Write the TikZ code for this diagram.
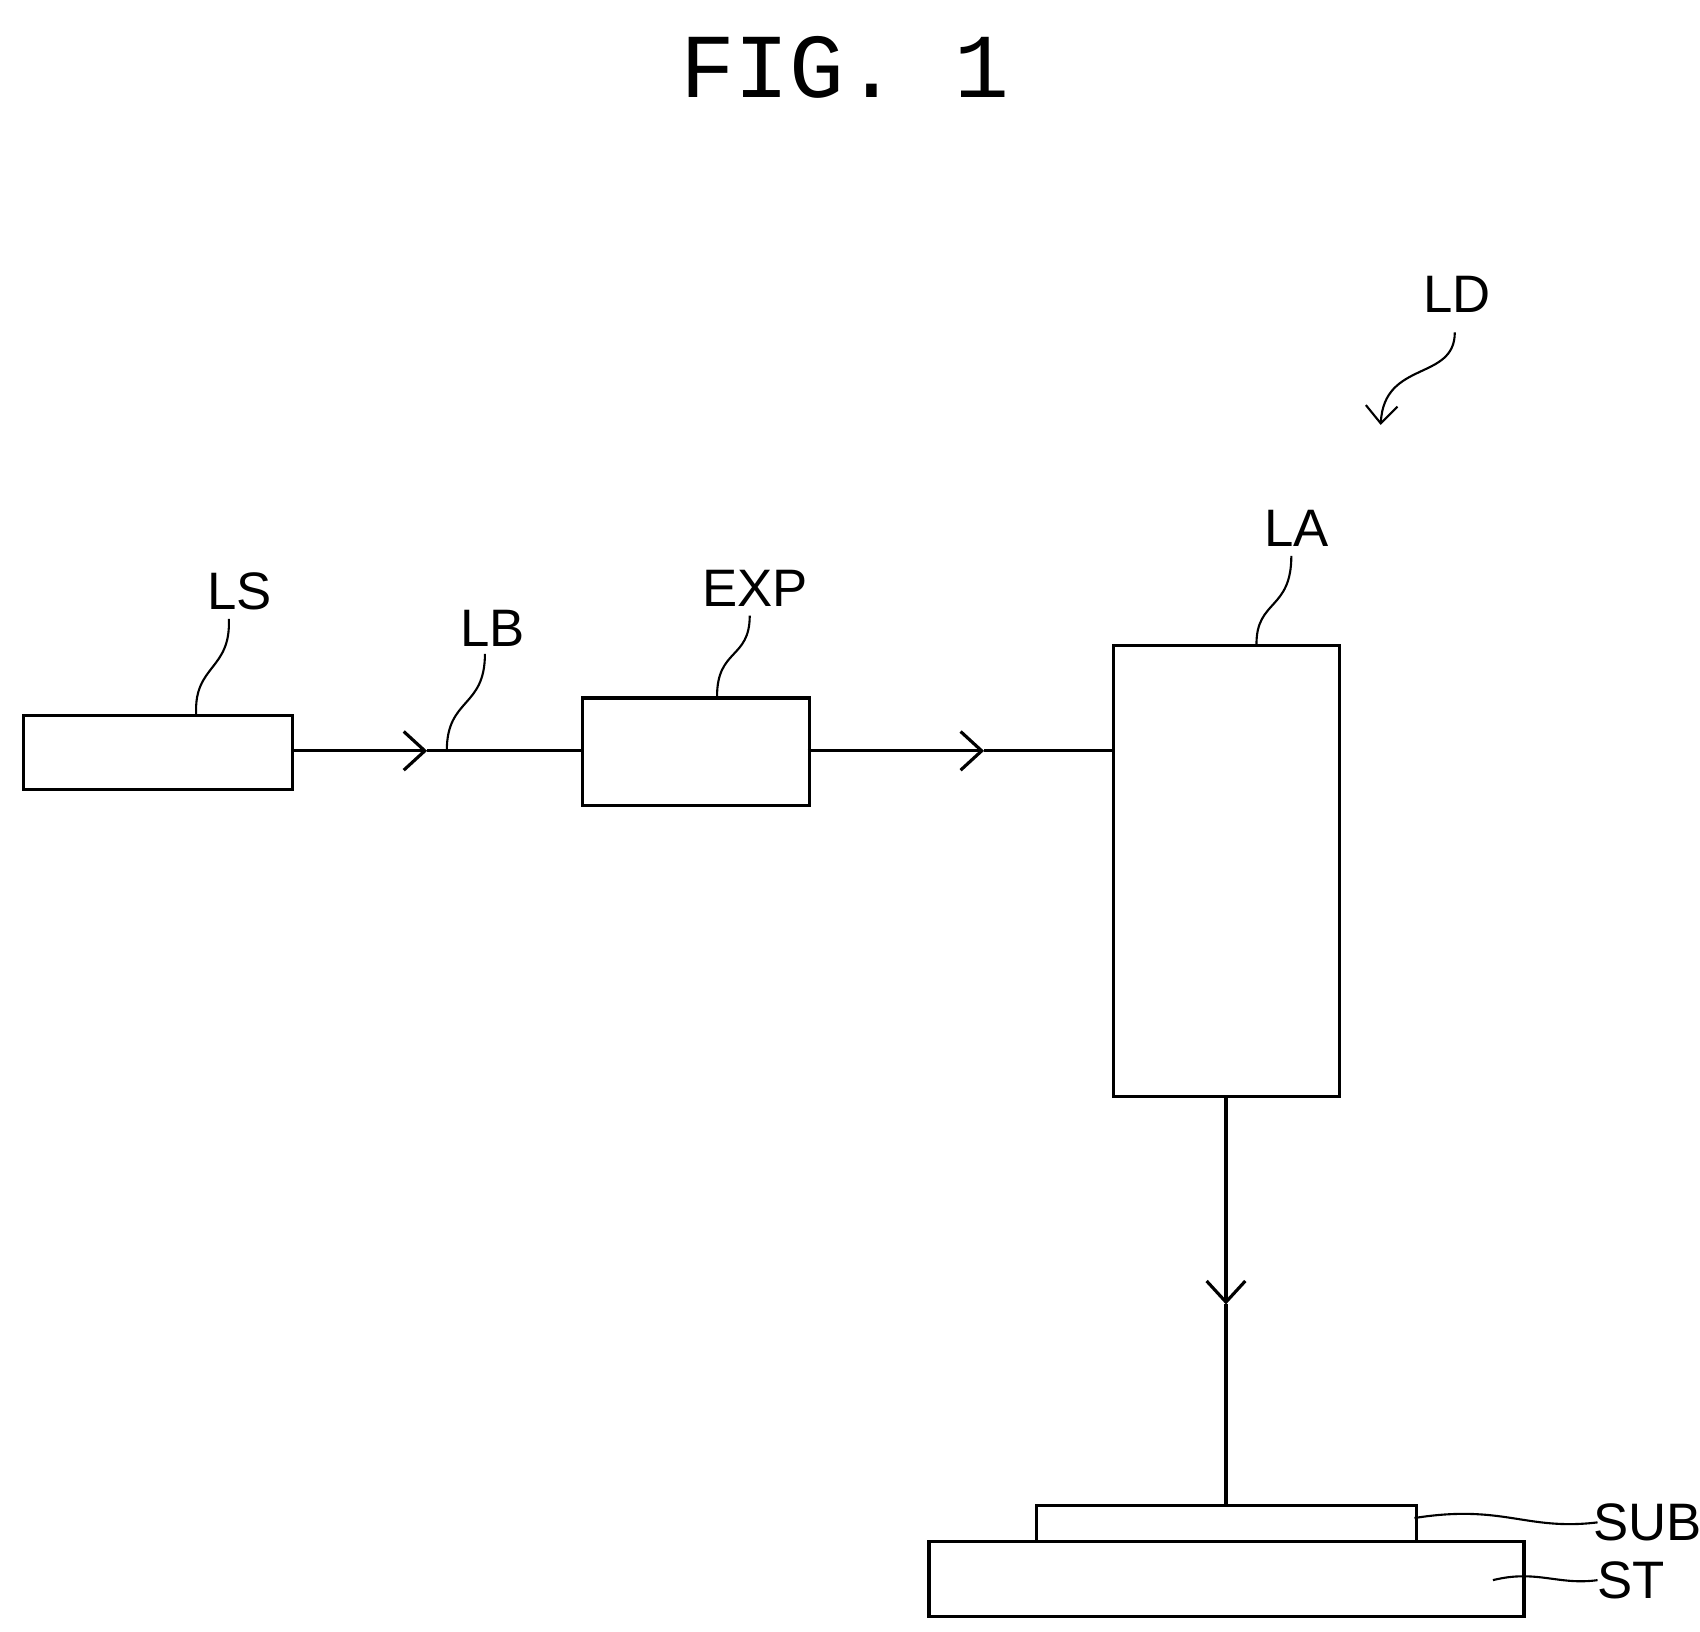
\documentclass[tikz,border=0pt]{standalone}
\usepackage{fontspec}
\setmainfont{Liberation Sans}
\newfontfamily\figfont{Liberation Mono}
\usetikzlibrary{arrows.meta, positioning}

\begin{document}
\begin{tikzpicture}[
    x=0.010897cm, y=-0.010897cm,
    line width=0.9pt,
    box/.style={draw, inner sep=0pt, anchor=north west},
    lbl/.style={font=\fontsize{15}{17}\selectfont},
    beam/.style={-{Straight Barb[length=6pt,width=11pt]}},
    leader/.style={line width=0.6pt}
]
    \useasboundingbox (0,0) rectangle (1560,1497);
    \node[font=\figfont\fontsize{26}{28}\selectfont] (title) at (775,62) {FIG. 1};

    % boxes
    \node[box, minimum width=247*0.10897mm, minimum height=68*0.10897mm] (ls) at (20,655) {};
    \node[box, minimum width=208*0.10897mm, minimum height=99*0.10897mm] (exp) at (533,639) {};
    \node[box, minimum width=208*0.10897mm, minimum height=414*0.10897mm] (la) at (1020,591) {};
    \node[box, minimum width=348*0.10897mm, minimum height=33*0.10897mm] (sub) at (950,1380) {};
    \node[box, minimum width=546*0.10897mm, minimum height=69*0.10897mm] (st) at (851,1413) {};

    % beam path
    \coordinate (b1) at (392,689);
    \coordinate (b2) at (903,689);
    \coordinate (b3) at (1125,1197);
    \draw[beam] (267,689) -- (b1);
    \draw (b1) -- (533,689);
    \draw[beam] (741,689) -- (b2);
    \draw (b2) -- (1020,689);
    \draw[beam] (1125,1005) -- (b3);
    \draw (b3) -- (1125,1380);

    % labels
    \node[lbl] (tls) at (220,543) {LS};
    \node[lbl] (tlb) at (452,577) {LB};
    \node[lbl] (texp) at (693,540) {EXP};
    \node[lbl] (tla) at (1190,485) {LA};
    \node[lbl] (tld) at (1337,270) {LD};
    \node[lbl] (tsub) at (1512,1397) {SUB};
    \node[lbl] (tst) at (1497,1450) {ST};

    % leaders
    \draw[leader] (180,655) .. controls (178,610) and (212,615) .. (210,568);
    \draw[leader] (410,689) .. controls (410,640) and (445,650) .. (445,600);
    \draw[leader] (658,639) .. controls (658,595) and (688,605) .. (688,565);
    \draw[leader] (1153,591) .. controls (1153,550) and (1185,560) .. (1185,510);
    \draw[leader, -{Straight Barb[length=5pt,width=9pt]}] (1335,305) .. controls (1335,350) and (1270,330) .. (1267,390);
    \draw[leader] (1298,1393) .. controls (1380,1380) and (1400,1405) .. (1466,1397);
    \draw[leader] (1370,1450) .. controls (1410,1440) and (1430,1455) .. (1466,1450);
\end{tikzpicture}
\end{document}
